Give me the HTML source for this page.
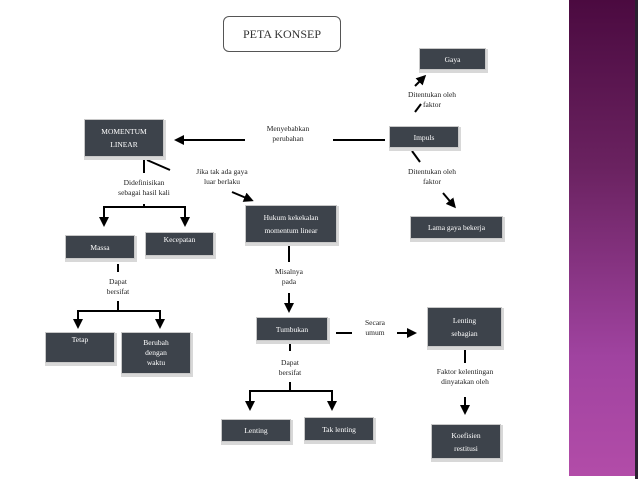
<!DOCTYPE html>
<html><head><meta charset="utf-8"><style>
html,body{margin:0;padding:0;background:#fff}
.wrap{position:relative;width:638px;height:479px;overflow:hidden;font-family:"Liberation Serif",serif}
.b{position:absolute;background:#3d434b;color:#fff;font-size:7.5px;text-align:center;display:flex;align-items:center;justify-content:center;line-height:13px;box-shadow:1px 2px 0 2px #d8d8d8;outline:1px solid #c8c8c8}
.l{position:absolute;font-size:7.5px;color:#222;text-align:center;line-height:10px;transform:translateX(-50%);white-space:nowrap}
.panel{position:absolute;left:569px;top:0;width:66px;height:476px;background:linear-gradient(#4b0a40,#6a2260 35%,#a043a0 75%,#b24ca8)}
.edge{position:absolute;left:635px;top:0;width:3px;height:479px;background:#2a2030}
</style></head><body><div class="wrap">
<div class="panel"></div><div class="edge"></div>
<div style="position:absolute;left:223px;top:16px;width:116px;height:34px;border:1px solid #555;border-radius:6px;font-size:12px;color:#333;display:flex;align-items:center;justify-content:center">PETA KONSEP</div>

<svg width="638" height="479" style="position:absolute;left:0;top:0">
<defs><marker id="a" markerWidth="5" markerHeight="5" refX="3.5" refY="2.5" orient="auto" markerUnits="strokeWidth"><path d="M0,0L5,2.5L0,5z" fill="#000"/></marker></defs>
<g stroke="#000" stroke-width="2" fill="none">
<line x1="245" y1="140" x2="177" y2="140" marker-end="url(#a)"/>
<line x1="333" y1="140" x2="385" y2="140"/>
<line x1="415" y1="112" x2="421" y2="104"/>
<line x1="415" y1="86" x2="424" y2="77" marker-end="url(#a)"/>
<line x1="412" y1="151" x2="420" y2="162"/>
<line x1="443" y1="193" x2="454" y2="206" marker-end="url(#a)"/>
<line x1="144" y1="160" x2="144" y2="173"/>
<line x1="147" y1="160" x2="170" y2="170"/>
<line x1="232" y1="192" x2="251" y2="200" marker-end="url(#a)"/>
<polyline points="104,222 104,207 185,207 185,222"/>
<line x1="144" y1="204" x2="144" y2="207"/>
<line x1="104" y1="218" x2="104" y2="224" marker-end="url(#a)"/>
<line x1="185" y1="218" x2="185" y2="224" marker-end="url(#a)"/>
<line x1="118" y1="264" x2="118" y2="272"/>
<line x1="118" y1="301" x2="118" y2="311"/>
<polyline points="78,324 78,311 160,311 160,324"/>
<line x1="78" y1="320" x2="78" y2="326" marker-end="url(#a)"/>
<line x1="160" y1="320" x2="160" y2="326" marker-end="url(#a)"/>
<line x1="289" y1="244" x2="289" y2="262"/>
<line x1="289" y1="293" x2="289" y2="310" marker-end="url(#a)"/>
<line x1="336" y1="333" x2="352" y2="333"/>
<line x1="397" y1="333" x2="414" y2="333" marker-end="url(#a)"/>
<line x1="290" y1="343" x2="290" y2="351"/>
<line x1="290" y1="382" x2="290" y2="391"/>
<polyline points="250,406 250,391 332,391 332,406"/>
<line x1="250" y1="402" x2="250" y2="408" marker-end="url(#a)"/>
<line x1="332" y1="402" x2="332" y2="408" marker-end="url(#a)"/>
<line x1="465" y1="350" x2="465" y2="363"/>
<line x1="465" y1="397" x2="465" y2="412" marker-end="url(#a)"/>
</g></svg>

<div class="b" style="left:420px;top:49px;width:65px;height:20px">Gaya</div>
<div class="b" style="left:390px;top:127px;width:68px;height:20px">Impuls</div>
<div class="b" style="left:85px;top:120px;width:78px;height:36px">MOMENTUM<br>LINEAR</div>
<div class="b" style="left:411px;top:217px;width:91px;height:21px">Lama gaya bekerja</div>
<div class="b" style="left:246px;top:206px;width:90px;height:36px">Hukum kekekalan<br>momentum linear</div>
<div class="b" style="left:66px;top:236px;width:68px;height:22px">Massa</div>
<div class="b" style="left:146px;top:233px;width:67px;height:22px;align-items:flex-start">Kecepatan</div>
<div class="b" style="left:46px;top:333px;width:68px;height:29px;align-items:flex-start">Tetap</div>
<div class="b" style="left:122px;top:333px;width:68px;height:40px;line-height:10px">Berubah<br>dengan<br>waktu</div>
<div class="b" style="left:257px;top:318px;width:70px;height:22px">Tumbukan</div>
<div class="b" style="left:428px;top:308px;width:73px;height:38px">Lenting<br>sebagian</div>
<div class="b" style="left:222px;top:420px;width:68px;height:21px">Lenting</div>
<div class="b" style="left:305px;top:418px;width:68px;height:22px">Tak lenting</div>
<div class="b" style="left:432px;top:425px;width:68px;height:33px">Koefisien<br>restitusi</div>

<div class="l" style="left:288px;top:124px">Menyebabkan<br>perubahan</div>
<div class="l" style="left:432px;top:90px">Ditentukan oleh<br>faktor</div>
<div class="l" style="left:432px;top:167px">Ditentukan oleh<br>faktor</div>
<div class="l" style="left:144px;top:178px">Didefinisikan<br>sebagai hasil kali</div>
<div class="l" style="left:222px;top:167px">Jika tak ada gaya<br>luar berlaku</div>
<div class="l" style="left:118px;top:277px">Dapat<br>bersifat</div>
<div class="l" style="left:289px;top:267px">Misalnya<br>pada</div>
<div class="l" style="left:375px;top:318px">Secara<br>umum</div>
<div class="l" style="left:290px;top:358px">Dapat<br>bersifat</div>
<div class="l" style="left:465px;top:367px">Faktor kelentingan<br>dinyatakan oleh</div>
</div></body></html>
